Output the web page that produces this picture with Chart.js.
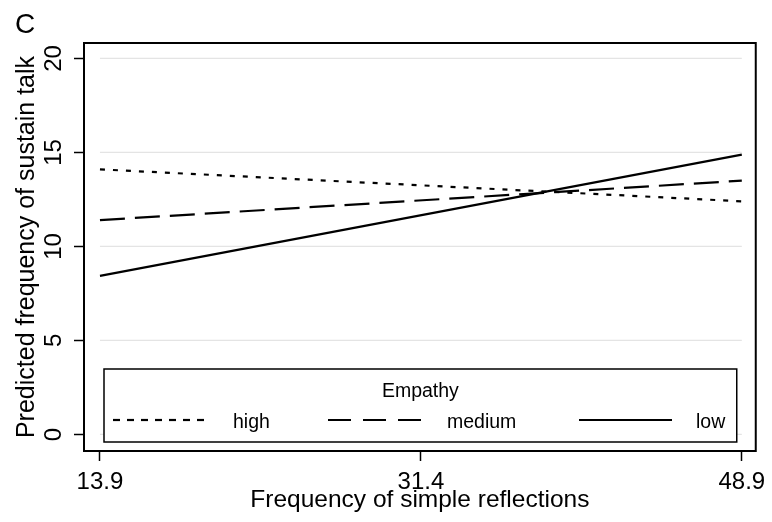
<!DOCTYPE html>
<html><head><meta charset="utf-8">
<script src="https://cdn.jsdelivr.net/npm/chart.js@4"></script>
<style>html,body{margin:0;padding:0;background:#fff}</style>
</head><body>
<canvas id="c" width="772" height="522" style="display:block;width:772px;height:522px"></canvas>
<script>
const panelLabel = 'C';
const xTitle = 'Frequency of simple reflections';
const yTitle = 'Predicted frequency of sustain talk';
const legendTitle = 'Empathy';
const seriesNames = ['high', 'medium', 'low'];
const xValues = [13.9, 48.9];
const highValues = [14.1, 12.4];
const mediumValues = [11.4, 13.5];
const lowValues = [8.43, 14.88];
const xTicks = [13.9, 31.4, 48.9];
const yTicks = [0, 5, 10, 15, 20];
const xMin = 13.03, xMax = 49.66, yMin = -0.88, yMax = 20.82;

const FONT = 'Liberation Sans';
const lineDashes = [[5, 8], [25, 10], []];
const legendDashes = [[7, 7], [23, 12], []];

function pts(vals) { return xValues.map((x, i) => ({ x: x, y: vals[i] })); }
const seriesValues = [highValues, mediumValues, lowValues];

const decor = {
  id: 'decor',
  beforeDatasetsDraw(chart) {
    const { ctx, scales: { x, y } } = chart;
    ctx.save();
    ctx.strokeStyle = '#e4e4e4';
    ctx.lineWidth = 1.3;
    const x0 = x.getPixelForValue(xTicks[0]);
    const x1 = x.getPixelForValue(xTicks[xTicks.length - 1]);
    yTicks.forEach(v => {
      const py = y.getPixelForValue(v);
      ctx.beginPath(); ctx.moveTo(x0, py); ctx.lineTo(x1, py); ctx.stroke();
    });
    ctx.restore();
  },
  afterDraw(chart) {
    const { ctx, chartArea: a } = chart;
    ctx.save();
    const L = a.left + 20, R = a.right - 19, T = a.top + 326, B = a.bottom - 9;
    ctx.fillStyle = '#fff';
    ctx.fillRect(L, T, R - L, B - T);
    ctx.strokeStyle = '#000';
    ctx.lineWidth = 1.5;
    ctx.strokeRect(L, T, R - L, B - T);
    ctx.fillStyle = '#000';
    ctx.font = '19.5px "' + FONT + '"';
    ctx.textAlign = 'center';
    ctx.textBaseline = 'alphabetic';
    ctx.fillText(legendTitle, (L + R) / 2, T + 28);
    const keyStarts = [9, 224, 475];
    const labelStarts = [129, 343, 592];
    const keyLen = 93;
    const ky = T + 51;
    ctx.textAlign = 'left';
    chart.data.datasets.forEach((ds, i) => {
      ctx.beginPath();
      ctx.setLineDash(legendDashes[i]);
      ctx.lineWidth = 2.2;
      ctx.moveTo(L + keyStarts[i], ky);
      ctx.lineTo(L + keyStarts[i] + keyLen, ky);
      ctx.stroke();
      ctx.setLineDash([]);
      ctx.fillText(ds.label, L + labelStarts[i], T + 59);
    });
    ctx.lineWidth = 2;
    ctx.strokeRect(a.left, a.top, a.right - a.left, a.bottom - a.top);
    ctx.font = '28px "' + FONT + '"';
    ctx.textAlign = 'left';
    ctx.fillText(panelLabel, 15, 33);
    ctx.restore();
  }
};

new Chart(document.getElementById('c'), {
  type: 'line',
  data: {
    datasets: seriesNames.map((name, i) => ({
      label: name,
      data: pts(seriesValues[i]),
      borderColor: '#000',
      borderWidth: 2.2,
      borderDash: lineDashes[i],
      pointRadius: 0,
      fill: false,
      tension: 0
    }))
  },
  options: {
    responsive: false,
    animation: false,
    devicePixelRatio: 1,
    layout: { padding: { top: 43, right: 16, left: 0, bottom: 0 } },
    plugins: { legend: { display: false }, tooltip: { enabled: false } },
    scales: {
      x: {
        type: 'linear', min: xMin, max: xMax,
        afterBuildTicks: s => { s.ticks = xTicks.map(v => ({ value: v })); },
        afterFit: s => { s.height = 71; },
        ticks: {
          autoSkip: false, minRotation: 0, maxRotation: 0, padding: 6.5, color: '#000',
          font: { family: FONT, size: 24 },
          callback: v => Number(v).toFixed(1)
        },
        grid: { drawOnChartArea: false, drawTicks: true, tickLength: 10, tickColor: '#000', tickWidth: 1.5 },
        border: { display: false },
        title: { display: true, text: xTitle, color: '#000', font: { family: FONT, size: 24.5 }, padding: { top: 0, bottom: 6.8 } }
      },
      y: {
        type: 'linear', min: yMin, max: yMax,
        afterBuildTicks: s => { s.ticks = yTicks.map(v => ({ value: v })); },
        afterFit: s => { s.width = 84; },
        ticks: {
          autoSkip: false, minRotation: 90, maxRotation: 90, crossAlign: 'center', padding: 6, color: '#000',
          font: { family: FONT, size: 24 },
          callback: v => String(v)
        },
        grid: { drawOnChartArea: false, drawTicks: true, tickLength: 10, tickColor: '#000', tickWidth: 1.5 },
        border: { display: false },
        title: { display: true, text: yTitle, color: '#000', font: { family: FONT, size: 25, lineHeight: 1.84 } }
      }
    }
  },
  plugins: [decor]
});
</script>
</body></html>
